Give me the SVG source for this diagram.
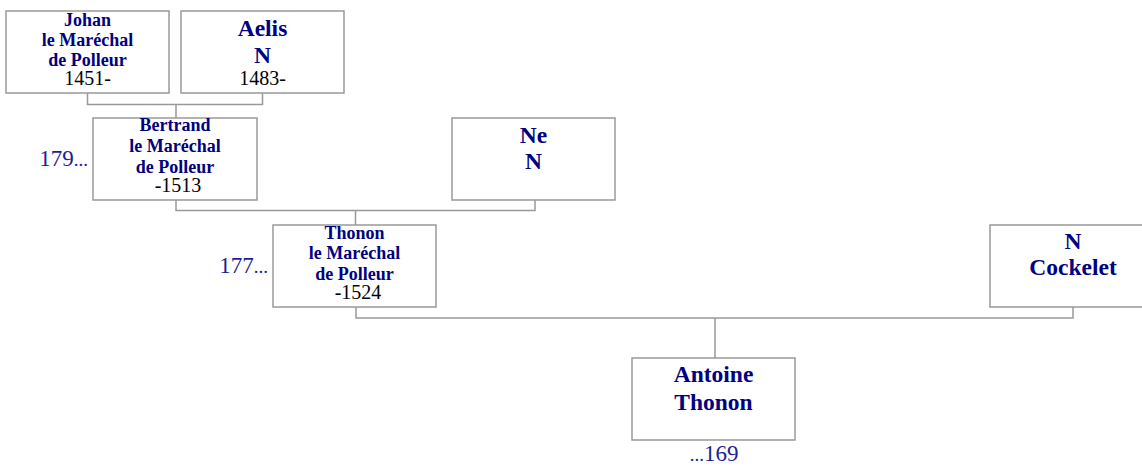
<svg xmlns="http://www.w3.org/2000/svg" width="1142" height="466" viewBox="0 0 1142 466">
<style>
.box{fill:#fff;stroke:#999;stroke-width:1.5}
.con{fill:none;stroke:#999;stroke-width:1.5}
.nm{font-family:"Liberation Serif",serif;font-weight:bold;fill:#000080;text-anchor:middle}
.s{font-size:18px}
.l{font-size:23.5px}
.dt{font-family:"Liberation Serif",serif;font-size:20px;fill:#000;text-anchor:middle}
.ref{font-family:"Liberation Serif",serif;font-size:23px;fill:#1e1e96}
.dots{font-size:19px}
</style>
<rect width="1142" height="466" fill="#fff"/>
<g id="connectors">
<path class="con" d="M87.5,93 V104.5 H262.5 V93 M176,104.5 V118"/>
<path class="con" d="M176,200 V210.5 H535 V200 M355.5,210.5 V225"/>
<path class="con" d="M356,307 V318 H1073 V307 M715,318 V358"/>
</g>
<g id="johan">
<rect class="box" x="6" y="11" width="163" height="82"/>
<text class="nm s" x="87.5" y="26">Johan</text>
<text class="nm s" x="87.5" y="46">le Maréchal</text>
<text class="nm s" x="87.5" y="66">de Polleur</text>
<text class="dt" x="87.5" y="85">1451-</text>
</g>
<g id="aelis">
<rect class="box" x="181" y="11" width="163" height="82"/>
<text class="nm l" x="262.5" y="36">Aelis</text>
<text class="nm l" x="262.5" y="62.5">N</text>
<text class="dt" x="262.5" y="85">1483-</text>
</g>
<g id="bertrand">
<rect class="box" x="93" y="118" width="164" height="82"/>
<text class="nm s" x="175" y="131">Bertrand</text>
<text class="nm s" x="175" y="152">le Maréchal</text>
<text class="nm s" x="175" y="172.5">de Polleur</text>
<text class="dt" x="178" y="192">-1513</text>
<text class="ref" x="88" y="166" text-anchor="end">179<tspan class="dots">...</tspan></text>
</g>
<g id="ne">
<rect class="box" x="452" y="118" width="163" height="82"/>
<text class="nm l" x="533.5" y="142.5">Ne</text>
<text class="nm l" x="533.5" y="168.5">N</text>
</g>
<g id="thonon">
<rect class="box" x="273" y="225" width="163" height="82"/>
<text class="nm s" x="354.5" y="238.5">Thonon</text>
<text class="nm s" x="354.5" y="259">le Maréchal</text>
<text class="nm s" x="354.5" y="280">de Polleur</text>
<text class="dt" x="358" y="298.5">-1524</text>
<text class="ref" x="268" y="272.5" text-anchor="end">177<tspan class="dots">...</tspan></text>
</g>
<g id="cockelet">
<rect class="box" x="990" y="225" width="166" height="82"/>
<text class="nm l" x="1073" y="248.5">N</text>
<text class="nm l" x="1073" y="275">Cockelet</text>
</g>
<g id="antoine">
<rect class="box" x="632" y="358" width="163" height="82"/>
<text class="nm l" x="713.5" y="382">Antoine</text>
<text class="nm l" x="713.5" y="409.5">Thonon</text>
<text class="ref" x="714" y="461" text-anchor="middle"><tspan class="dots">...</tspan>169</text>
</g>
</svg>
